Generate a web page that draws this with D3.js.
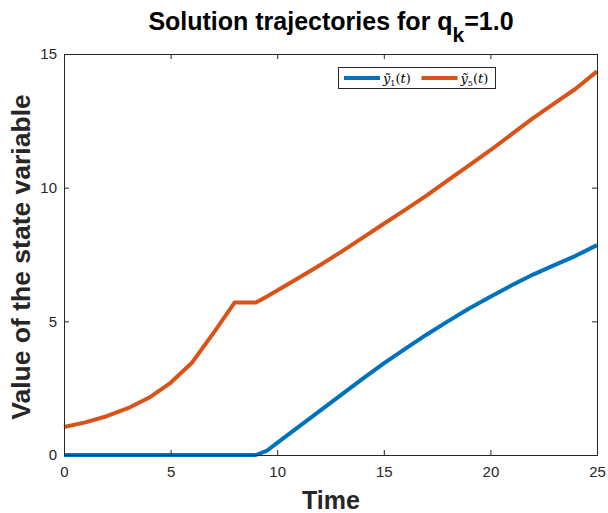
<!DOCTYPE html>
<html>
<head>
<meta charset="utf-8">
<script src="https://cdn.jsdelivr.net/npm/d3@7"></script>
<style>
  body { margin: 0; background: #fff; }
  svg { font-family: "Liberation Sans", Arial, sans-serif; }
</style>
</head>
<body>
<div id="chart"></div>
<script>
// time grid and the two trajectories
const times = [0, 1, 2, 3, 4, 5, 6, 7, 8, 9, 9.5, 10, 11, 12, 13, 14, 15, 16, 17, 18, 19, 20, 21, 22, 23, 24, 25];
const y1Values = [0, 0, 0, 0, 0, 0, 0, 0, 0, 0, 0.15, 0.45, 1.05, 1.65, 2.25, 2.85, 3.43, 3.97, 4.5, 5.0, 5.48, 5.92, 6.35, 6.75, 7.1, 7.45, 7.85];
const y5Values = [1.05, 1.22, 1.45, 1.75, 2.15, 2.7, 3.45, 4.55, 5.7, 5.7, 5.92, 6.15, 6.62, 7.1, 7.6, 8.12, 8.65, 9.17, 9.7, 10.27, 10.83, 11.4, 12.0, 12.6, 13.15, 13.7, 14.35];
const xTicks = [0, 5, 10, 15, 20, 25];
const yTicks = [0, 5, 10, 15];

const width = 608, height = 513;
const margin = { top: 54, right: 11, bottom: 58, left: 64 };
const axisColor = "#262626";

const svg = d3.select("#chart").append("svg")
    .attr("width", width)
    .attr("height", height);

const x = d3.scaleLinear().domain([0, 25]).range([margin.left, width - margin.right]);
const y = d3.scaleLinear().domain([0, 15]).range([height - margin.bottom, margin.top]);

const series = [
    { name: "1", values: y1Values, color: "#0072BD" },
    { name: "5", values: y5Values, color: "#D95319" }
];

// lines
const line = d3.line()
    .x((d, i) => x(times[i]))
    .y(d => y(d));

series.forEach(s => {
    svg.append("path")
        .datum(s.values)
        .attr("fill", "none")
        .attr("stroke", s.color)
        .attr("stroke-width", 4)
        .attr("stroke-linejoin", "round")
        .attr("d", line);
});

// axes (ticks inward, box on)
const tickLen = 5;
svg.append("g")
    .attr("transform", `translate(0,${y(0)})`)
    .call(d3.axisBottom(x).tickValues(xTicks).tickSize(-tickLen).tickPadding(11.5));
svg.append("g")
    .attr("transform", `translate(${x(0)},0)`)
    .call(d3.axisLeft(y).tickValues(yTicks).tickSize(-tickLen).tickPadding(7));
svg.append("g")
    .attr("transform", `translate(0,${y(15)})`)
    .call(d3.axisTop(x).tickValues(xTicks).tickSize(-tickLen).tickFormat(""));
svg.append("g")
    .attr("transform", `translate(${x(25)},0)`)
    .call(d3.axisRight(y).tickValues(yTicks).tickSize(-tickLen).tickFormat(""));

svg.selectAll(".domain, .tick line").attr("stroke", axisColor);
svg.selectAll(".tick text")
    .attr("fill", axisColor)
    .style("font-size", "15px")
    .style("font-family", "'Liberation Sans', Arial, sans-serif");

// title
const title = svg.append("text")
    .attr("x", 331)
    .attr("y", 30)
    .attr("text-anchor", "middle")
    .style("font-size", "25px")
    .style("font-weight", "bold")
    .attr("fill", "#000");
title.append("tspan").text("Solution trajectories for q");
title.append("tspan").attr("dy", 12).style("font-size", "21px").text("k");
title.append("tspan").attr("dy", -12).text("=1.0");

// axis labels
svg.append("text")
    .attr("x", 331)
    .attr("y", 509)
    .attr("text-anchor", "middle")
    .style("font-size", "25px")
    .style("font-weight", "bold")
    .attr("fill", axisColor)
    .text("Time");

svg.append("text")
    .attr("transform", "translate(30,257) rotate(-90)")
    .attr("text-anchor", "middle")
    .style("font-size", "26.5px")
    .style("font-weight", "bold")
    .attr("fill", axisColor)
    .text("Value of the state variable");

// legend
const legend = svg.append("g").attr("transform", "translate(338.5,67.5)");
legend.append("rect")
    .attr("width", 157)
    .attr("height", 21)
    .attr("fill", "#fff")
    .attr("stroke", axisColor)
    .attr("stroke-width", 1);

series.forEach((s, i) => {
    const g = legend.append("g").attr("transform", `translate(${5.5 + i * 77.5},10.5)`);
    g.append("line")
        .attr("x1", 0).attr("x2", 36)
        .attr("stroke", s.color)
        .attr("stroke-width", 4);
    const t = g.append("text")
        .attr("x", 39)
        .attr("y", 4.5)
        .style("font-family", "'DejaVu Serif', 'Liberation Serif', serif")
        .style("font-size", "13px")
        .attr("fill", "#000");
    t.append("tspan").style("font-style", "italic").text("y\u0303");
    t.append("tspan").attr("dy", 3).style("font-size", "8px").text(s.name);
    t.append("tspan").attr("dy", -3).text("(");
    t.append("tspan").style("font-style", "italic").text("t");
    t.append("tspan").text(")");
});
</script>
</body>
</html>
